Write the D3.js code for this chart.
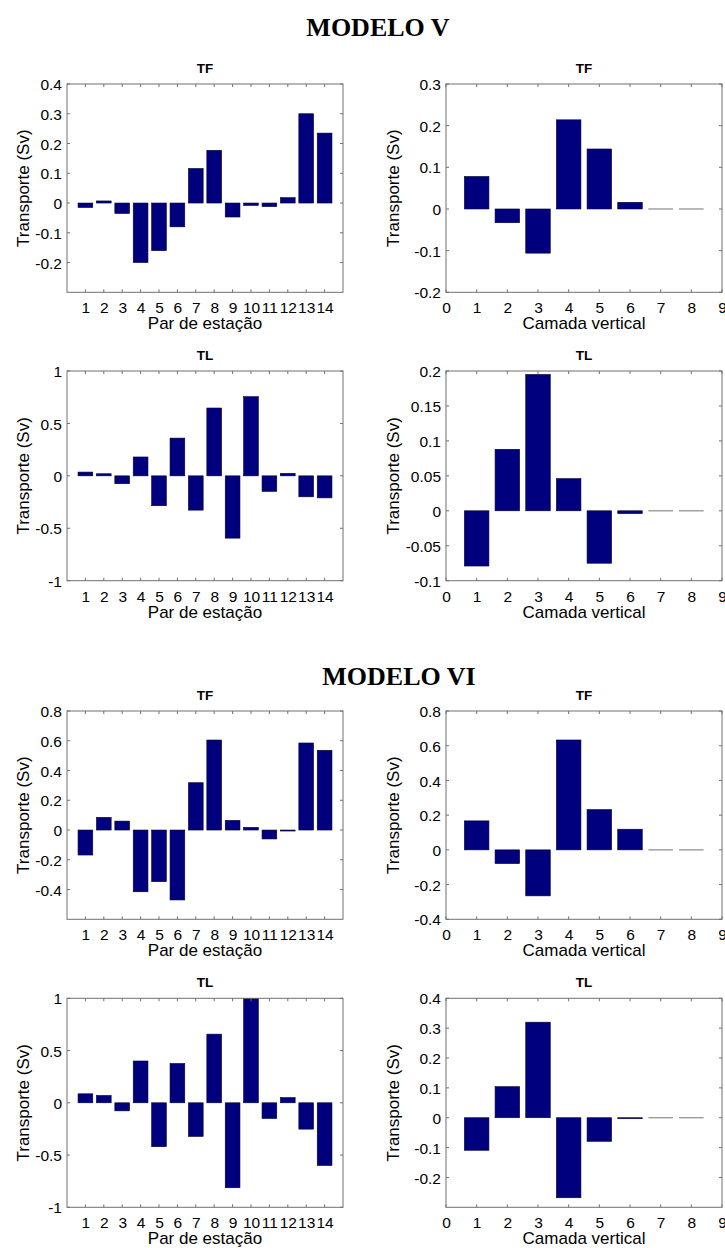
<!DOCTYPE html>
<html>
<head>
<meta charset="utf-8">
<script src="https://cdn.jsdelivr.net/npm/d3@7"></script>
<style>
  html, body { margin: 0; padding: 0; background: #fff; }
  svg { display: block; }
</style>
</head>
<body>
<svg id="fig" width="725" height="1248"></svg>
<script>
// Categories on the x axes
const stationPairs = [1,2,3,4,5,6,7,8,9,10,11,12,13,14];
const layers = [1,2,3,4,5,6,7,8];

// Transport (Sv) per station pair / vertical layer
const m5TFPairs  = [-0.015, 0.007, -0.035, -0.200, -0.160, -0.080, 0.116, 0.177, -0.047, -0.008, -0.012, 0.018, 0.300, 0.235];
const m5TFLayers = [0.078, -0.033, -0.106, 0.214, 0.144, 0.016, 0, 0];
const m5TLPairs  = [0.036, 0.020, -0.075, 0.180, -0.285, 0.360, -0.327, 0.647, -0.594, 0.755, -0.148, 0.024, -0.200, -0.210];
const m5TLLayers = [-0.079, 0.088, 0.195, 0.046, -0.075, -0.004, 0, 0];
const m6TFPairs  = [-0.168, 0.085, 0.060, -0.415, -0.347, -0.470, 0.318, 0.605, 0.065, 0.018, -0.060, -0.004, 0.585, 0.536];
const m6TFLayers = [0.167, -0.079, -0.265, 0.633, 0.232, 0.119, 0, 0];
const m6TLPairs  = [0.086, 0.070, -0.077, 0.400, -0.420, 0.376, -0.322, 0.657, -0.813, 1.000, -0.150, 0.050, -0.252, -0.600];
const m6TLLayers = [-0.109, 0.104, 0.320, -0.268, -0.079, -0.002, 0, 0];

// Tick values
const pairTicks  = [1,2,3,4,5,6,7,8,9,10,11,12,13,14];
const layerTicks = [0,1,2,3,4,5,6,7,8,9];
const yTicks5TFPairs  = [-0.2,-0.1,0,0.1,0.2,0.3,0.4];
const yTicks5TFLayers = [-0.2,-0.1,0,0.1,0.2,0.3];
const yTicks5TLPairs  = [-1,-0.5,0,0.5,1];
const yTicks5TLLayers = [-0.1,-0.05,0,0.05,0.1,0.15,0.2];
const yTicks6TFPairs  = [-0.4,-0.2,0,0.2,0.4,0.6,0.8];
const yTicks6TFLayers = [-0.4,-0.2,0,0.2,0.4,0.6,0.8];
const yTicks6TLPairs  = [-1,-0.5,0,0.5,1];
const yTicks6TLLayers = [-0.2,-0.1,0,0.1,0.2,0.3,0.4];

// Figure layout
const colL = {x: 67, w: 276};
const colR = {x: 446, w: 276};
const rows = [{y: 84, h: 208.3}, {y: 371, h: 209.7}, {y: 711, h: 208.3}, {y: 998.3, h: 209}];

const panels = [
  {col: colL, row: rows[0], cats: stationPairs, vals: m5TFPairs,  xd: [0,15], xt: pairTicks,  yd: [-0.3,0.4], yt: yTicks5TFPairs,  title: "TF", xlabel: "Par de estação"},
  {col: colR, row: rows[0], cats: layers,       vals: m5TFLayers, xd: [0,9],  xt: layerTicks, yd: [-0.2,0.3], yt: yTicks5TFLayers, title: "TF", xlabel: "Camada vertical"},
  {col: colL, row: rows[1], cats: stationPairs, vals: m5TLPairs,  xd: [0,15], xt: pairTicks,  yd: [-1,1],     yt: yTicks5TLPairs,  title: "TL", xlabel: "Par de estação"},
  {col: colR, row: rows[1], cats: layers,       vals: m5TLLayers, xd: [0,9],  xt: layerTicks, yd: [-0.1,0.2], yt: yTicks5TLLayers, title: "TL", xlabel: "Camada vertical"},
  {col: colL, row: rows[2], cats: stationPairs, vals: m6TFPairs,  xd: [0,15], xt: pairTicks,  yd: [-0.6,0.8], yt: yTicks6TFPairs,  title: "TF", xlabel: "Par de estação"},
  {col: colR, row: rows[2], cats: layers,       vals: m6TFLayers, xd: [0,9],  xt: layerTicks, yd: [-0.4,0.8], yt: yTicks6TFLayers, title: "TF", xlabel: "Camada vertical"},
  {col: colL, row: rows[3], cats: stationPairs, vals: m6TLPairs,  xd: [0,15], xt: pairTicks,  yd: [-1,1],     yt: yTicks6TLPairs,  title: "TL", xlabel: "Par de estação"},
  {col: colR, row: rows[3], cats: layers,       vals: m6TLLayers, xd: [0,9],  xt: layerTicks, yd: [-0.3,0.4], yt: yTicks6TLLayers, title: "TL", xlabel: "Camada vertical"}
];

const svg = d3.select("#fig");
const SANS = "'Liberation Sans', Arial, Helvetica, sans-serif";
const SERIF = "'Liberation Serif', 'Times New Roman', serif";
const BOX = "#707070";
const BAR = "#00007f";
const fmt = v => String(+v.toFixed(2));

// Section headings
svg.append("text").attr("x", 378).attr("y", 36).attr("text-anchor", "middle")
  .attr("font-family", SERIF).attr("font-weight", "bold").attr("font-size", 26).text("MODELO V");
svg.append("text").attr("x", 399).attr("y", 685).attr("text-anchor", "middle")
  .attr("font-family", SERIF).attr("font-weight", "bold").attr("font-size", 26).text("MODELO VI");

panels.forEach(p => {
  const x0 = p.col.x, w = p.col.w, y0 = p.row.y, h = p.row.h;
  const x = d3.scaleLinear().domain(p.xd).range([x0, x0 + w]);
  const y = d3.scaleLinear().domain(p.yd).range([y0 + h, y0]);
  const g = svg.append("g");

  // bars
  const bw = x(0.8) - x(0);
  const data = p.cats.map((c, i) => ({c, v: p.vals[i]}));
  g.selectAll("rect.bar").data(data.filter(d => d.v !== 0)).join("rect")
    .attr("class", "bar")
    .attr("x", d => x(d.c) - bw / 2)
    .attr("width", bw)
    .attr("y", d => Math.min(y(d.v), y(0)))
    .attr("height", d => Math.max(1, Math.abs(y(d.v) - y(0))))
    .attr("fill", BAR)
    .attr("stroke", "#000033")
    .attr("stroke-width", 0.6);
  // zero-height bars collapse to their outline
  g.selectAll("line.zero").data(data.filter(d => d.v === 0)).join("line")
    .attr("class", "zero")
    .attr("x1", d => x(d.c) - bw / 2).attr("x2", d => x(d.c) + bw / 2)
    .attr("y1", y(0)).attr("y2", y(0))
    .attr("stroke", "#8a8a8a").attr("stroke-width", 1.2);

  // axes: box with inward ticks on all four sides
  const tl = 3;
  const axB = d3.axisBottom(x).tickValues(p.xt).tickSize(0).tickFormat(d3.format("d")).tickPadding(0);
  const gx = g.append("g").attr("transform", `translate(0,${y0 + h})`).call(axB);
  gx.select(".domain").remove();
  gx.selectAll("text").attr("font-family", SANS).attr("font-size", 15.5).attr("fill", "#000")
    .attr("dy", 0).attr("y", 21);
  const axL = d3.axisLeft(y).tickValues(p.yt).tickSize(0).tickFormat(fmt).tickPadding(0);
  const gy = g.append("g").attr("transform", `translate(${x0},0)`).call(axL);
  gy.select(".domain").remove();
  gy.selectAll("text").attr("font-family", SANS).attr("font-size", 15.5).attr("fill", "#000")
    .attr("x", -5).attr("dy", "0.36em");

  const tg = g.append("g").attr("stroke", BOX).attr("stroke-width", 1);
  p.xt.forEach(t => {
    tg.append("line").attr("x1", x(t)).attr("x2", x(t)).attr("y1", y0 + h).attr("y2", y0 + h - tl);
    tg.append("line").attr("x1", x(t)).attr("x2", x(t)).attr("y1", y0).attr("y2", y0 + tl);
  });
  p.yt.forEach(t => {
    tg.append("line").attr("x1", x0).attr("x2", x0 + tl).attr("y1", y(t)).attr("y2", y(t));
    tg.append("line").attr("x1", x0 + w).attr("x2", x0 + w - tl).attr("y1", y(t)).attr("y2", y(t));
  });
  g.append("rect").attr("x", x0).attr("y", y0).attr("width", w).attr("height", h)
    .attr("fill", "none").attr("stroke", BOX).attr("stroke-width", 1);

  // title and axis labels
  g.append("text").attr("x", x0 + w / 2).attr("y", y0 - 11).attr("text-anchor", "middle")
    .attr("font-family", SANS).attr("font-weight", "bold").attr("font-size", 13.5).text(p.title);
  g.append("text").attr("x", x0 + w / 2).attr("y", y0 + h + 37).attr("text-anchor", "middle")
    .attr("font-family", SANS).attr("font-size", 17).text(p.xlabel);
  const yl = x0 === colL.x ? 23.5 : 393.5;
  g.append("text").attr("transform", `translate(${yl},${y0 + h / 2}) rotate(-90)`)
    .attr("text-anchor", "middle").attr("dy", "0.35em")
    .attr("font-family", SANS).attr("font-size", 17).text("Transporte (Sv)");
});
</script>
</body>
</html>
